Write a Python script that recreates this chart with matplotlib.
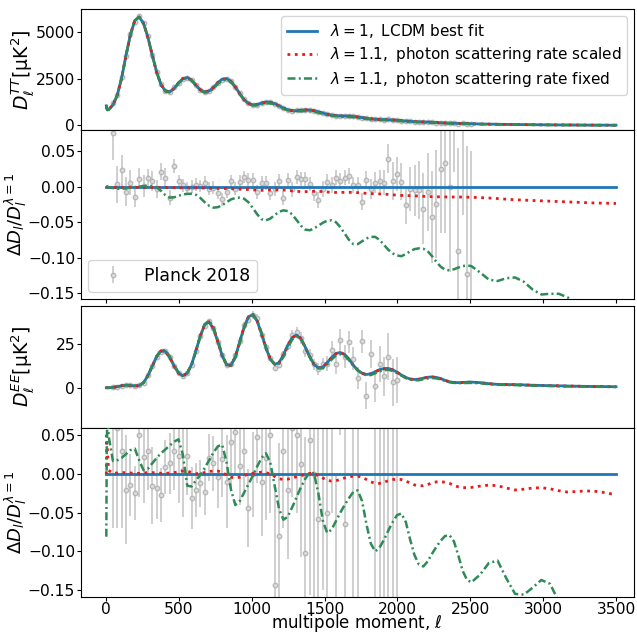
import numpy as np
import matplotlib
matplotlib.use('Agg')
import matplotlib.pyplot as plt

# ---------------- model grid (multipoles) ----------------
ell = np.concatenate([[2, 5, 10], np.arange(17.5, 2510, 30), np.arange(2567.5, 3470, 60), [3500]])

tt_lcdm = [1050, 900, 830, 840, 1100, 1620, 2550, 3750, 4850, 5600, 5790, 5450, 4700, 3750, 2850, 2180,
           1840, 1800, 1980, 2270, 2500, 2560, 2420, 2150, 1900, 1790, 1840, 2030, 2290, 2470, 2500, 2360,
           2060, 1700, 1380, 1180, 1100, 1120, 1200, 1250, 1240, 1170, 1050, 930, 840, 795, 790, 810,
           830, 825, 790, 730, 660, 600, 555, 525, 510, 505, 500, 485, 455, 420, 385, 355, 335, 322,
           315, 308, 295, 278, 258, 238, 220, 206, 196, 188, 180, 170, 158, 146, 135, 126, 119, 113,
           107, 100, 93, 82, 74, 66, 58, 52, 47, 42, 38, 34, 31, 28, 25.5, 23, 21, 19, 17.5, 17]

tt_ratio_scaled = [0, 0, -0.0005, -0.0008,
                   -0.001, -0.001, -0.001, -0.001, -0.001, -0.001, -0.001, -0.001, -0.001,
                   -0.0012, -0.0015, -0.0015, -0.0012, -0.0012, -0.0014, -0.0016, -0.0018, -0.0018, -0.0016,
                   -0.0016,
                   -0.0018, -0.002, -0.0022, -0.0025, -0.0026, -0.0026, -0.0027, -0.003, -0.0033, -0.0036,
                   -0.0038, -0.004, -0.0045, -0.005, -0.0052, -0.005, -0.0046, -0.0043, -0.0043, -0.0047,
                   -0.0053, -0.006, -0.0066,
                   -0.007, -0.007, -0.0068, -0.0066, -0.0066, -0.007, -0.0076, -0.008, -0.0082, -0.0082,
                   -0.008, -0.008, -0.0082,
                   -0.0085, -0.009, -0.0095, -0.0098, -0.010, -0.0102, -0.0105, -0.011, -0.0115, -0.012,
                   -0.0124, -0.0126, -0.0128,
                   -0.013, -0.0133, -0.0136, -0.014, -0.0142, -0.0143, -0.0144, -0.0145, -0.0146, -0.0146,
                   -0.0146, -0.0147, -0.0148, -0.015,
                   -0.0155, -0.016, -0.0168, -0.0177, -0.0185, -0.019, -0.0195, -0.020, -0.0205, -0.021,
                   -0.0215, -0.022, -0.0225, -0.023, -0.0233, -0.0235, -0.0237]

tt_ratio_fixed = [0.0, 0.0, -0.0005, -0.001, -0.002, -0.003, -0.003, -0.0025, -0.0015, -0.0005, 0.0, 0.0008,
                  0.001, 0.0008, -0.001, -0.006, -0.012, -0.0155, -0.015, -0.013, -0.011, -0.0102, -0.010,
                  -0.0115, -0.016, -0.022, -0.027, -0.0296, -0.029, -0.026, -0.022, -0.018, -0.016, -0.0155,
                  -0.017, -0.022, -0.030, -0.039, -0.046, -0.0475, -0.045, -0.040, -0.0355, -0.0334, -0.0345,
                  -0.039, -0.047, -0.055, -0.0605, -0.0615, -0.059, -0.055, -0.051, -0.048, -0.0475, -0.050,
                  -0.057, -0.066, -0.075, -0.081, -0.081, -0.077, -0.073, -0.0708, -0.0708, -0.075, -0.082,
                  -0.089, -0.094, -0.097, -0.098, -0.095, -0.091, -0.088, -0.087, -0.0875, -0.091, -0.098,
                  -0.106, -0.113, -0.117, -0.118, -0.1165, -0.114, -0.112, -0.111, -0.112, -0.121, -0.131,
                  -0.133, -0.129, -0.128, -0.134, -0.145, -0.152, -0.151, -0.151, -0.156, -0.164, -0.172,
                  -0.178, -0.181, -0.186, -0.190]

ee_lcdm = [0.05, 0.04, 0.03, 0.04, 0.25, 0.7, 1.2, 1.5, 1.4, 1.1, 1.3, 3.0, 7.0, 12.5, 18.0, 21.3, 21.0, 17.5,
           12.5, 8.5, 6.9, 8.5, 13.5, 21.5, 30, 36.5, 38, 34, 26.5, 18.5, 13.2, 13, 18, 26.5, 35, 41, 42.2,
           38.5, 31, 23, 16.5, 13.6, 14.5, 19, 24.5, 29, 30.4, 28.5, 23.5, 18, 13.5, 11.5, 12, 14.5, 17.5,
           19.8, 20.4, 19.3, 16.5, 13, 10.2, 8.4, 7.7, 8.1, 9.3, 10.5, 11.1, 11.2, 10.4, 9.0, 7.4, 6.0, 5.1,
           4.8, 5.0, 5.6, 6.1, 6.3, 6.0, 5.3, 4.3, 3.5, 3.1, 3.0, 3.1, 3.25, 3.3, 3.0, 2.4, 2.0, 1.9, 1.85,
           1.7, 1.5, 1.35, 1.25, 1.15, 1.05, 0.95, 0.85, 0.78, 0.72, 0.66, 0.64]

ee_ratio_scaled = [0.0, 0.05, 0.03, 0.005, 0.001, 0.0015, 0.002, 0.002, 0.0015, 0.001, 0.001, 0.0015, 0.002,
                   0.002, 0.0015, 0.001, 0.001, 0.0015, 0.002, 0.003, 0.004, 0.004, 0.002, 0.0005, 0.001, 0.002,
                   0.0035, 0.004, 0.004, 0.002, -0.001, -0.004, -0.005, -0.004, -0.002, 0.0, 0.001, 0.002,
                   0.0025, 0.002, 0.0, -0.003, -0.006, -0.007, -0.0065, -0.005, -0.0035, -0.002, -0.0005,
                   0.001, 0.0005, -0.002, -0.005, -0.008, -0.009, -0.0085, -0.007, -0.005, -0.0035, -0.0027,
                   -0.0026, -0.004, -0.007, -0.010, -0.012, -0.012, -0.0105, -0.0085, -0.007, -0.0068, -0.007,
                   -0.009, -0.0115, -0.014, -0.015, -0.015, -0.0135, -0.0115, -0.010, -0.0098, -0.0105, -0.012,
                   -0.0145, -0.0165, -0.0175, -0.0176, -0.0172, -0.0155, -0.0142, -0.015, -0.018, -0.0205,
                   -0.0195, -0.018, -0.0176, -0.019, -0.0215, -0.0232, -0.0225, -0.0218, -0.022, -0.0235,
                   -0.0255, -0.026]

ee_ratio_fixed = [-0.081, 0.03, 0.09, 0.05, 0.017, 0.018, 0.021, 0.026, 0.031, 0.033, 0.018, 0.005, 0.007,
                  0.014, 0.021, 0.027, 0.032, 0.037, 0.042, 0.045, 0.025, -0.015, -0.016, -0.008, -0.001,
                  0.008, 0.018, 0.028, 0.036, 0.038, 0.015, -0.020, -0.040, -0.035, -0.024, -0.013, -0.002,
                  0.010, 0.021, 0.027, 0.015, -0.015, -0.045, -0.059, -0.055, -0.043, -0.030, -0.017, -0.006,
                  0.002, 0.001, -0.025, -0.060, -0.076, -0.072, -0.061, -0.050, -0.040, -0.031, -0.023,
                  -0.021, -0.035, -0.065, -0.090, -0.100, -0.095, -0.085, -0.073, -0.062, -0.053, -0.051,
                  -0.062, -0.085, -0.105, -0.117, -0.1195, -0.113, -0.103, -0.094, -0.086, -0.080, -0.079,
                  -0.087, -0.105, -0.125, -0.137, -0.140, -0.130, -0.115, -0.112, -0.135, -0.155, -0.156,
                  -0.147, -0.137, -0.142, -0.165, -0.185, -0.19, -0.19, -0.195, -0.2, -0.2, -0.2]

# ---------------- Planck 2018 binned data (ratios to LCDM) ----------------
ell_tt_data = np.arange(47.5, 2510, 30)
tt_data_ratio = [0.076, 0.0033, 0.023, -0.007, 0.0056, -0.014, 0.011, 0.001, 0.012, 0.008, -0.003, 0.0207,
                 0.0127, -0.0155, 0.029, 0.008, 0.002, -0.002, 0.0, 0.003, 0.001, 0.0056, -0.003, -0.0014,
                 -0.0085, -0.018, -0.0075, 0.008, -0.003, 0.007, 0.0136, 0.009, 0.009, -0.007, 0.0056, 0.0056,
                 -0.0085, -0.003, 0.008, -0.0165, 0.009, -0.004, 0.0136, 0.0103, 0.0103, 0.004, -0.0094,
                 -0.019, -0.003, 0.007, 0.0024, 0.0127, 0.008, 0.0127, 0.015, 0.0024, 0.0024, -0.021, 0.0094,
                 -0.003, 0.0056, 0.008, 0.0056, 0.0395, 0.008, 0.018, 0.007, -0.026, -0.004, -0.005, -0.005,
                 -0.031, -0.007, -0.043, -0.024, 0.0245, 0.034, 0.0, 0.12, -0.091, 0.11, -0.123, -0.2]
tt_data_err = [0.038, 0.026, 0.022, 0.020, 0.018, 0.015, 0.015, 0.015, 0.013, 0.014, 0.013, 0.012, 0.013,
               0.011, 0.010, 0.009,
               0.009, 0.009, 0.009, 0.009, 0.009, 0.009, 0.009, 0.009, 0.009, 0.009, 0.009, 0.009, 0.009,
               0.009, 0.009,
               0.010, 0.010, 0.010, 0.010, 0.010, 0.010, 0.010, 0.010, 0.010, 0.010, 0.010, 0.010, 0.010,
               0.010, 0.010,
               0.011, 0.011, 0.011, 0.011, 0.011, 0.011, 0.011, 0.011, 0.011, 0.011, 0.011,
               0.012, 0.013, 0.014, 0.015, 0.016, 0.018,
               0.020, 0.027, 0.024, 0.026, 0.027, 0.031, 0.036, 0.041, 0.050, 0.055, 0.065, 0.076, 0.090,
               0.100, 0.120, 0.100, 0.146, 0.150, 0.180, 0.250]

ell_ee_data = np.arange(47.5, 2000, 30)
ee_data_ratio = [0.1, 0.06, 0.03, -0.02, -0.014, -0.024, 0.05, 0.022, 0.03, -0.015, -0.018, -0.027, 0.0095,
                 0.0138, 0.03, 0.023, 0.005, 0.0236, -0.031, -0.02, -0.012, -0.023, 0.0215, 0.0138, -0.0034,
                 0.02, -0.01, 0.042, 0.055, 0.01, 0.03, -0.044, 0.0, 0.048, -0.01, 0.021, 0.05, -0.143,
                 -0.08, 0.03, -0.02, 0.06, 0.05, 0.0125, -0.102, 0.044, 0.0, -0.058, 0.15, -0.05, 0.25,
                 -0.3, 0.35, -0.0645, 0.6, 0.3, -0.45, 2.2, -1.6, 1.4, -0.9, 0.3, -0.4, 0.6, -0.7, -0.5]
ee_data_err = [0.17, 0.13, 0.1, 0.07, 0.04, 0.035, 0.08, 0.06, 0.05, 0.05, 0.04, 0.035, 0.035, 0.04, 0.05, 0.06,
               0.06, 0.05, 0.04, 0.035, 0.03, 0.03, 0.03, 0.035, 0.04, 0.05, 0.06, 0.06, 0.055, 0.05, 0.05,
               0.05, 0.055, 0.06, 0.07, 0.08, 0.1, 0.12, 0.12, 0.1, 0.09, 0.09, 0.1, 0.12, 0.15, 0.2, 0.25,
               0.3, 0.3, 0.3, 0.3, 0.3, 0.3, 0.35, 0.4, 0.5, 0.6, 0.8, 1.0, 1.0, 1.0, 1.0, 1.0, 1.2, 1.3, 1.5]

labels = [r'$\lambda=1,\ \mathrm{LCDM\ best\ fit}$',
          r'$\lambda=1.1,\ \mathrm{photon\ scattering\ rate\ scaled}$',
          r'$\lambda=1.1,\ \mathrm{photon\ scattering\ rate\ fixed}$']

# ---------------- derived arrays ----------------
tt_lcdm = np.array(tt_lcdm, float)
ee_lcdm = np.array(ee_lcdm, float)
tt_rs, tt_rf = np.array(tt_ratio_scaled), np.array(tt_ratio_fixed)
ee_rs, ee_rf = np.array(ee_ratio_scaled), np.array(ee_ratio_fixed)
tt_mod_d = np.interp(ell_tt_data, ell, tt_lcdm)
ee_mod_d = np.interp(ell_ee_data, ell, ee_lcdm)
tt_dr, tt_de = np.array(tt_data_ratio), np.array(tt_data_err)
ee_dr, ee_de = np.array(ee_data_ratio), np.array(ee_data_err)

c_blue, c_red, c_green = '#1f77b4', '#e8191a', '#2e8b57'
lw_b, lw_r, lw_g = 2.0, 2.0, 1.8
ls_g = (0, (3.2, 1.3, 0.8, 1.3))
eb_kw = dict(fmt='o', color='#a0a0a0', ecolor='#b8b8b8', ms=3.2, mfc='#dcdcdc', mec='#b0b0b0',
             elinewidth=1.1, alpha=0.85, zorder=1)

fig = plt.figure(figsize=(6.37, 6.33), dpi=100)
L, W = 0.1264, 0.8690
ax1 = fig.add_axes([L, 0.7954, W, 0.1904])
ax2 = fig.add_axes([L, 0.5269, W, 0.2685])
ax3 = fig.add_axes([L, 0.3246, W, 0.1920])
ax4 = fig.add_axes([L, 0.0569, W, 0.2677])

fs_tick = 11.2

# panel 1: TT
ax1.errorbar(ell_tt_data, tt_mod_d * (1 + tt_dr), yerr=tt_mod_d * tt_de, **eb_kw)
ax1.plot(ell, tt_lcdm, color=c_blue, lw=lw_b, label=labels[0], zorder=2)
ax1.plot(ell, tt_lcdm * (1 + tt_rs), color=c_red, lw=lw_r, ls=':', label=labels[1], zorder=3)
ax1.plot(ell, tt_lcdm * (1 + tt_rf), color=c_green, lw=lw_g, ls=ls_g, label=labels[2], zorder=4)
ax1.set_ylim(-214, 6215)
ax1.set_yticks([0, 2500, 5000])
ax1.set_ylabel(r'$D_\ell^{TT}[\mathrm{\mu K}^2]$', fontsize=13.5)
ax1.legend(loc='upper right', fontsize=11, handlelength=2.0, borderaxespad=0.45, labelspacing=0.35)

# panel 2: TT ratio
ax2.errorbar(ell_tt_data, tt_dr, yerr=tt_de, label='Planck 2018', **eb_kw)
ax2.plot(ell, np.zeros_like(ell), color=c_blue, lw=lw_b, zorder=2)
ax2.plot(ell, tt_rs, color=c_red, lw=lw_r, ls=':', zorder=3)
ax2.plot(ell, tt_rf, color=c_green, lw=lw_g, ls=ls_g, zorder=4)
ax2.set_ylim(-0.159, 0.0805)
ax2.set_yticks([0.05, 0.0, -0.05, -0.10, -0.15])
ax2.set_ylabel(r'$\Delta D_l/D_l^{\lambda=1}$', fontsize=13)
ax2.legend(loc='lower left', fontsize=12.5, handlelength=2.0, borderaxespad=0.45)

# panel 3: EE
ax3.errorbar(ell_ee_data, ee_mod_d * (1 + ee_dr), yerr=ee_mod_d * ee_de, **eb_kw)
ax3.plot(ell, ee_lcdm, color=c_blue, lw=lw_b, zorder=2)
ax3.plot(ell, ee_lcdm * (1 + ee_rs), color=c_red, lw=lw_r, ls=':', zorder=3)
ax3.plot(ell, ee_lcdm * (1 + ee_rf), color=c_green, lw=lw_g, ls=ls_g, zorder=4)
ax3.set_ylim(-22.9, 47.2)
ax3.set_yticks([0, 25])
ax3.set_ylabel(r'$D_\ell^{EE}[\mathrm{\mu K}^2]$', fontsize=13.5)

# panel 4: EE ratio
ax4.errorbar(ell_ee_data, ee_dr, yerr=ee_de, **eb_kw)
ax4.plot(ell, np.zeros_like(ell), color=c_blue, lw=lw_b, zorder=2)
ax4.plot(ell, ee_rs, color=c_red, lw=lw_r, ls=':', zorder=3)
ax4.plot(ell, ee_rf, color=c_green, lw=lw_g, ls=ls_g, zorder=4)
ax4.set_ylim(-0.159, 0.0603)
ax4.set_yticks([0.05, 0.0, -0.05, -0.10, -0.15])
ax4.set_ylabel(r'$\Delta D_l/D_l^{\lambda=1}$', fontsize=13)
ax4.set_xlabel(r'multipole moment, $\ell$', fontsize=12, va='baseline')

for ax in (ax1, ax2, ax3, ax4):
    ax.set_xlim(-175, 3624)
    ax.set_xticks(np.arange(0, 3501, 500))
    ax.tick_params(labelsize=fs_tick, length=2.6, pad=1.2)
    if ax is not ax4:
        ax.tick_params(labelbottom=False)
for ax in (ax1, ax3):
    ax.yaxis.set_label_coords(-0.081, 0.5)
for ax in (ax2, ax4):
    ax.yaxis.set_label_coords(-0.093, 0.5)
ax4.xaxis.set_label_coords(0.5, -0.182)

fig.savefig('out.png', dpi=100)
